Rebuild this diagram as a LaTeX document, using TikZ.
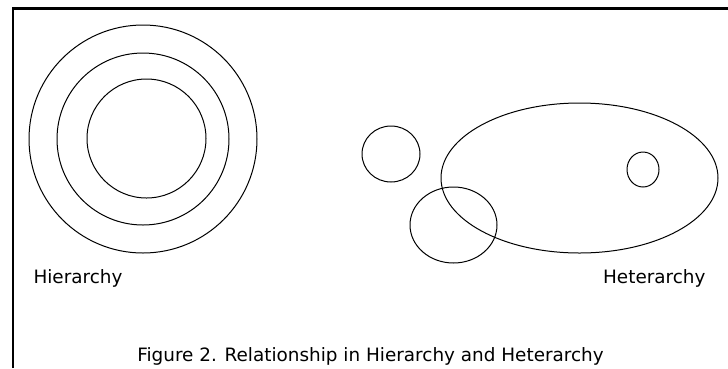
\documentclass[tikz,border=0pt]{standalone}
\usepackage{fontspec}
\setmainfont{DejaVu Sans}

\begin{document}
\begin{tikzpicture}[x=1pt, y=-1pt, line width=1pt,
    label text/.style={font=\fontsize{18.4}{20}\selectfont}]

  \useasboundingbox (0,0) rectangle (728,368);

  % the frame, only the top and left edges show
  \draw[line width=2.2pt] (13,368) -- (13,8.5) -- (728,8.5);

  % hierarchy: rings inside one another
  \draw (143,139) circle (114);
  \draw (143,139) circle (86);
  \draw (146.5,138.5) circle (59.5);
  \node[label text, anchor=west, inner sep=0pt] (hier) at (33,278) {Hierarchy};

  % heterarchy: sets that overlap or stand apart
  \draw (391,154) ellipse (29 and 28);
  \draw (579.5,178) ellipse (138.5 and 75);
  \draw (643,169.5) ellipse (16 and 17.5);
  \draw (453.5,225) ellipse (43.5 and 38);
  \node[label text, anchor=east, inner sep=0pt] (heter) at (706,278) {Heterarchy};

  % caption
  \node[label text, inner sep=0pt] (cap) at (370.5,356) {Figure 2. Relationship in Hierarchy and Heterarchy};

\end{tikzpicture}
\end{document}
